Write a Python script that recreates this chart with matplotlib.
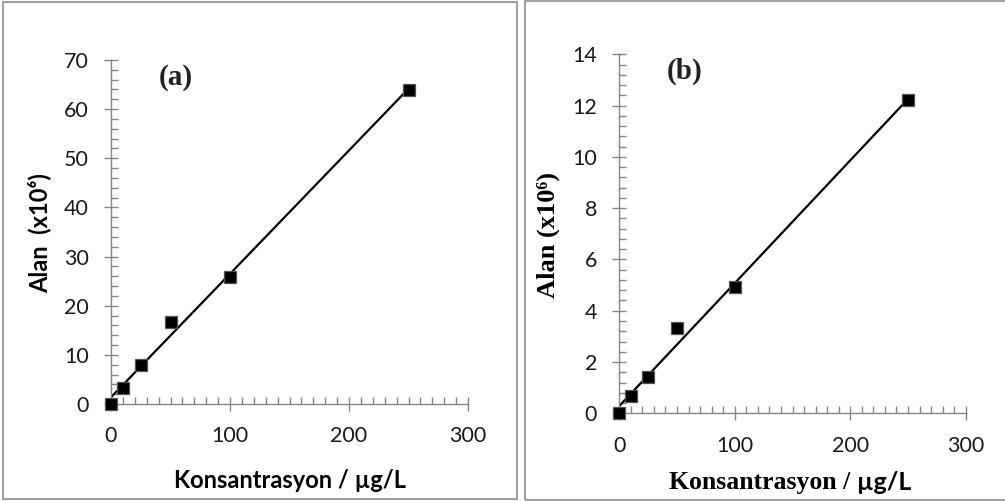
import numpy as np
import matplotlib
matplotlib.use("Agg")
import matplotlib.pyplot as plt
from matplotlib.patches import Rectangle
from matplotlib.ticker import MultipleLocator

# calibration data
konsantrasyon = [0, 10, 25, 50, 100, 250]
alan_a = [0.0, 3.2, 8.0, 16.6, 25.8, 63.9]
alan_b = [0.0, 0.69, 1.42, 3.32, 4.92, 12.2]

W, H = 1005, 501
SANS = ["Lato", "DejaVu Sans"]
SERIF = ["Liberation Serif", "DejaVu Serif"]
AXIS_GREY = "#868686"

fig = plt.figure(figsize=(W / 100, H / 100), dpi=100)
fig.patch.set_facecolor("white")


def px_box(x0, y0, x1, y1):
    # pixel box (top-left origin) -> figure fraction [left, bottom, width, height]
    return [x0 / W, 1 - y1 / H, (x1 - x0) / W, (y1 - y0) / H]


def frame(x0, y0, x1, y1):
    l, b, w, h = px_box(x0, y0, x1, y1)
    fig.add_artist(Rectangle((l, b), w, h, transform=fig.transFigure,
                             fill=False, edgecolor="#a0a0a0", linewidth=1.5))


def style_axes(ax, ymax, ymajor, yminor):
    ax.set_xlim(0, 300)
    ax.set_ylim(0, ymax)
    ax.xaxis.set_major_locator(MultipleLocator(100))
    ax.xaxis.set_minor_locator(MultipleLocator(10))
    ax.yaxis.set_major_locator(MultipleLocator(ymajor))
    ax.yaxis.set_minor_locator(MultipleLocator(yminor))
    for side in ["top", "right"]:
        ax.spines[side].set_visible(False)
    for side in ["left", "bottom"]:
        ax.spines[side].set_color(AXIS_GREY)
        ax.spines[side].set_linewidth(1.0)
    ax.tick_params(which="major", direction="inout", length=10, width=1.0,
                   color=AXIS_GREY, pad=11, labelsize=15.5)
    ax.tick_params(which="minor", direction="in", length=5, width=1.0,
                   color=AXIS_GREY)
    for lab in ax.get_xticklabels() + ax.get_yticklabels():
        lab.set_family(SANS)
        lab.set_color("#1a1a1a")


def draw_panel(ax, x, y):
    x = np.array(x, dtype=float)
    y = np.array(y, dtype=float)
    slope, icpt = np.polyfit(x, y, 1)
    xs = np.array([x.min(), x.max()])
    ax.plot(xs, slope * xs + icpt, color="black", linewidth=1.6, zorder=2)
    ax.plot(x, y, linestyle="none", marker="s", markersize=9.3,
            color="black", markeredgecolor="#555555", markeredgewidth=0.9,
            clip_on=False, zorder=3)


# panel (a)
frame(3, 1.5, 517, 499)
ax1 = fig.add_axes(px_box(111, 60, 468, 404))
draw_panel(ax1, konsantrasyon, alan_a)
style_axes(ax1, 70, 10, 2)
ax1.text(0.182, 0.95, "(a)", transform=ax1.transAxes, ha="center", va="center",
         family=SERIF, fontweight="bold", fontsize=21, color="#222222")
fig.text(39 / W, 1 - 233 / H, "Alan  (x10⁶)", rotation=90, ha="center",
         va="center", family=SANS, fontweight="bold", fontsize=17)
fig.text(290 / W, 1 - 480 / H, "Konsantrasyon / µg/L", ha="center",
         va="center", family=SANS, fontweight="bold", fontsize=17)

# panel (b)
frame(525, 1, 1010, 500)
ax2 = fig.add_axes(px_box(619.3, 54.3, 965.7, 413.3))
draw_panel(ax2, konsantrasyon, alan_b)
style_axes(ax2, 14, 2, 0.4)
ax2.text(0.19, 0.953, "(b)", transform=ax2.transAxes, ha="center", va="center",
         family=SERIF, fontweight="bold", fontsize=21, color="#222222")
fig.text(548 / W, 1 - 235 / H, "Alan (x10⁶)", rotation=90, ha="center",
         va="center", family=SERIF, fontweight="bold", fontsize=19)
fig.text(857 / W, 1 - 483 / H, "Konsantrasyon / ", ha="right",
         va="center", family=SERIF, fontweight="bold", fontsize=18.5)
fig.text(857 / W, 1 - 483 / H, "µg/L", ha="left",
         va="center", family=SANS, fontweight="bold", fontsize=18)

fig.savefig("out.png", dpi=100, facecolor="white")
